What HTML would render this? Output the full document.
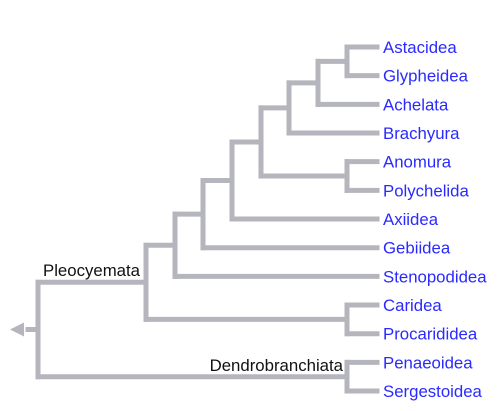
<!DOCTYPE html>
<html><head><meta charset="utf-8"><style>
html,body{margin:0;padding:0;background:#fff;}
svg{display:block;font-family:"Liberation Sans",Arial,sans-serif;}
</style></head><body>
<svg id="c" width="501" height="411"></svg>
<script>
const leaves=["Astacidea","Glypheidea","Achelata","Brachyura","Anomura","Polychelida","Axiidea","Gebiidea","Stenopodidea","Caridea","Procarididea","Penaeoidea","Sergestoidea"];
const nodeX={ag:347,ach:318,bra:289,ap:347,j:261,axi:232,geb:203,ste:175,car:347,pleo:146,den:347,root:38};
const tree=["root",["pleo",["ste",["geb",["axi",["j",["bra",["ach",["ag",0,1],2],3],["ap",4,5]],6],7],8],["car",9,10]],["den",11,12]];
const leafX=377, y0=47, dy=28.67, col="#b5b5bd", sw=5;
const svg=document.getElementById('c');
const NS="http://www.w3.org/2000/svg";
function ly(i){return y0+i*dy;}
function line(x1,y1,x2,y2,name){
 const l=document.createElementNS(NS,'line');
 l.setAttribute('x1',x1);l.setAttribute('y1',y1);l.setAttribute('x2',x2);l.setAttribute('y2',y2);
 l.setAttribute('stroke',col);l.setAttribute('stroke-width',sw);l.setAttribute('stroke-linecap','square');
 
 
 svg.appendChild(l);
}
function draw(n){
 if(typeof n==='number'){return {x:leafX,y:ly(n)};}
 const x=nodeX[n[0]];
 const kids=n.slice(1).map(draw);
 kids.forEach(k=>line(x,k.y,k.x,k.y,'branch'));
 const ys=kids.map(k=>k.y);
 line(x,Math.min(...ys),x,Math.max(...ys),'node-'+n[0]);
 return {x:x,y:(Math.min(...ys)+Math.max(...ys))/2};
}
const r=draw(tree);
line(r.x,r.y,28,r.y,'root-stem');
const p=document.createElementNS(NS,'polygon');
p.setAttribute('points',`10,${r.y} 24,${r.y-7} 24,${r.y+7}`);
p.setAttribute('fill',col);


svg.appendChild(p);
leaves.forEach((t,i)=>{
 const e=document.createElementNS(NS,'text');
 e.setAttribute('x',383);e.setAttribute('y',ly(i)+6);
 e.setAttribute('font-size','16.8');e.setAttribute('fill','#2a2aff');
 e.textContent=t;
 
 
 svg.appendChild(e);
});
function lab(t,x,y,anchor,name){
 const e=document.createElementNS(NS,'text');
 e.setAttribute('x',x);e.setAttribute('y',y);e.setAttribute('font-size','16.8');
 e.setAttribute('fill','#111');e.setAttribute('text-anchor',anchor);
 e.textContent=t;
 
 
 svg.appendChild(e);
}
lab("Pleocyemata",43,276,"start","pleocyemata-label");
lab("Dendrobranchiata",343,371,"end","dendrobranchiata-label");
</script>
</body></html>
